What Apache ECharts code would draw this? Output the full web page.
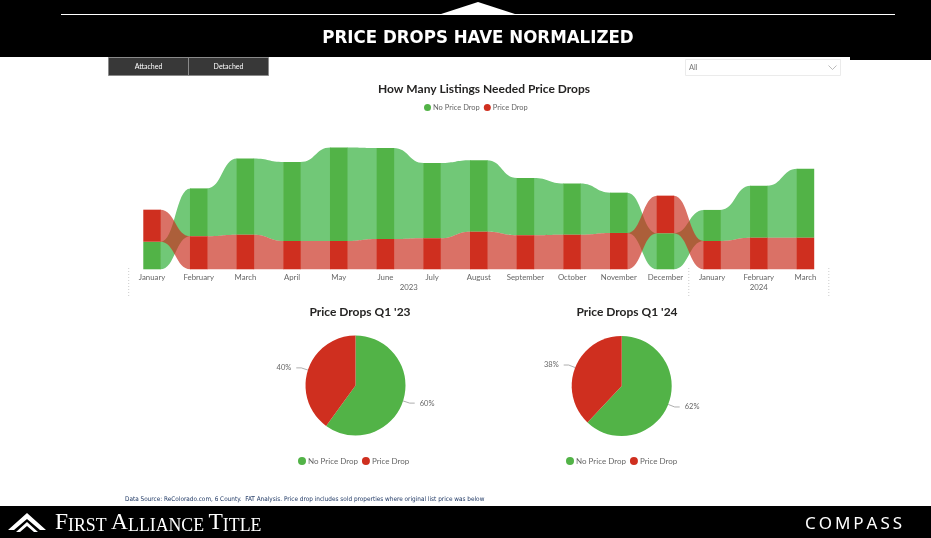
<!DOCTYPE html>
<html><head><meta charset="utf-8">
<script src="https://cdn.jsdelivr.net/npm/echarts@6/dist/echarts.min.js"></script>
<style>html,body{margin:0;padding:0;background:#fff}#c{width:931px;height:538px}</style>
</head><body><div id="c"></div>
<script>
// ---- data ----
const months = ['January','February','March','April','May','June','July','August','September','October','November','December','January','February','March'];
const years = ['2023','2024'];
const yearStart = [0, 12];
const yearEnd = [11, 14];
const noPriceDrop = [1100,1910,3040,3150,3730,3630,3000,2850,2280,2040,1610,1440,1240,2070,2750];
const priceDrop   = [1280,1320,1380,1130,1130,1210,1240,1500,1360,1380,1450,1500,1130,1260,1260];
const seriesNames = ['No Price Drop','Price Drop'];
const pieQ1_23 = [60,40];
const pieQ1_24 = [62,38];

const GREEN = '#52b347', RED = '#cf2f1f';
const GREEN_RIB = '#71c877', RED_RIB = 'rgba(200,45,30,0.68)';
const FONT = 'Lato, "Noto Sans", sans-serif';

function stackFor(i){
  const g = noPriceDrop[i], r = priceDrop[i];
  if (r > g) return {g:[0,g], r:[g,g+r]};
  return {r:[0,r], g:[r,r+g]};
}
function makeRender(key, barColor, ribColor){
  return function(params, api){
    const i = api.value(0);
    const bw = api.size([1,0])[0] * 0.375;
    const s = stackFor(i)[key];
    const pLo = api.coord([i, s[0]]), pHi = api.coord([i, s[1]]);
    const children = [];
    if (i < months.length - 1){
      const s2 = stackFor(i+1)[key];
      const qLo = api.coord([i+1, s2[0]]), qHi = api.coord([i+1, s2[1]]);
      const x1 = pLo[0] + bw/2 - 0.5, x2 = qLo[0] - bw/2 + 0.5, xm = (x1 + x2)/2;
      const d = 'M'+x1+' '+pHi[1]+' C'+xm+' '+pHi[1]+' '+xm+' '+qHi[1]+' '+x2+' '+qHi[1]+
                ' L'+x2+' '+qLo[1]+' C'+xm+' '+qLo[1]+' '+xm+' '+pLo[1]+' '+x1+' '+pLo[1]+' Z';
      children.push({type:'path', shape:{pathData:d}, style:{fill:ribColor}});
    }
    children.push({type:'rect', shape:{x:pLo[0]-bw/2, y:pHi[1], width:bw, height:pLo[1]-pHi[1]}, style:{fill:barColor}});
    return {type:'group', children};
  };
}

const chart = echarts.init(document.getElementById('c'), null, {renderer:'canvas'});

const pieCommon = {
  type:'pie', radius:50, startAngle:90, clockwise:true, animation:false,
  label:{show:true, position:'outside', formatter:'{d}%', fontSize:7.5, color:'#666', fontFamily:FONT},
  labelLine:{show:true, length:7, length2:5, lineStyle:{color:'#999', width:0.8}},
  emphasis:{disabled:true}
};

const option = {
  animation:false,
  color:[GREEN, RED],
  title:[
    {text:'How Many Listings Needed Price Drops', left:479, top:78, textAlign:'center',
     textStyle:{fontSize:12, fontWeight:'bold', color:'#252423', fontFamily:FONT}},
    {text:"Price Drops Q1 '23", left:355, top:301, textAlign:'center',
     textStyle:{fontSize:12, fontWeight:'bold', color:'#252423', fontFamily:FONT}},
    {text:"Price Drops Q1 '24", left:622, top:301, textAlign:'center',
     textStyle:{fontSize:12, fontWeight:'bold', color:'#252423', fontFamily:FONT}}
  ],
  legend:[
    {data:seriesNames, left:424, top:103.5, icon:'circle', itemWidth:7, itemHeight:7, itemGap:4, padding:0,
     textStyle:{fontSize:7.5, color:'#666', fontFamily:FONT, padding:[0,0,0,-3]}},
    {data:seriesNames, left:298, top:457, icon:'circle', itemWidth:8, itemHeight:8, itemGap:4, padding:0,
     textStyle:{fontSize:8, color:'#666', fontFamily:FONT, padding:[0,0,0,-3]}},
    {data:seriesNames, left:566, top:457, icon:'circle', itemWidth:8, itemHeight:8, itemGap:4, padding:0,
     textStyle:{fontSize:8, color:'#666', fontFamily:FONT, padding:[0,0,0,-3]}}
  ],
  grid:{left:128.7, right:102.2, top:129, bottom:268.7, containLabel:false},
  xAxis:{type:'category', data:months, axisLine:{show:false}, axisTick:{show:false},
    axisLabel:{fontSize:7.8, color:'#666', margin:4, interval:0, fontFamily:FONT}},
  yAxis:{type:'value', min:0, max:5600, show:false},
  series:[
    {name:seriesNames[0], type:'custom', coordinateSystem:'cartesian2d', itemStyle:{color:GREEN},
     renderItem:makeRender('g', GREEN, GREEN_RIB), encode:{x:0, y:1},
     data:months.map((m,i)=>[i, noPriceDrop[i]])},
    {name:seriesNames[1], type:'custom', coordinateSystem:'cartesian2d', itemStyle:{color:RED},
     renderItem:makeRender('r', RED, RED_RIB), encode:{x:0, y:1},
     data:months.map((m,i)=>[i, priceDrop[i]])},
    Object.assign({}, pieCommon, {center:[355.5,385.5],
      data:seriesNames.map((n,k)=>({name:n, value:pieQ1_23[k], itemStyle:{color:k?RED:GREEN}}))}),
    Object.assign({}, pieCommon, {center:[621.7,386],
      data:seriesNames.map((n,k)=>({name:n, value:pieQ1_24[k], itemStyle:{color:k?RED:GREEN}}))})
  ],
  graphic:[
    // header
    {type:'rect', shape:{x:0,y:0,width:931,height:57}, style:{fill:'#000'}, silent:true},
    {type:'rect', shape:{x:850,y:57,width:81,height:3}, style:{fill:'#000'}, silent:true},
    {type:'line', shape:{x1:61,y1:14.5,x2:895,y2:14.5}, style:{stroke:'#fff', lineWidth:1}},
    {type:'polygon', shape:{points:[[438,15],[478,2],[518,15]]}, style:{fill:'#fff'}},
    {type:'text', x:478, y:38, style:{text:'PRICE DROPS HAVE NORMALIZED', fill:'#fff',
      font:'bold 18.5px "DejaVu Sans Condensed", "DejaVu Sans", sans-serif', align:'center', verticalAlign:'middle'}},
    // buttons
    {type:'rect', shape:{x:108.5,y:57.5,width:80,height:18}, style:{fill:'#383838', stroke:'#8a8a8a', lineWidth:1}},
    {type:'rect', shape:{x:188.5,y:57.5,width:80,height:18}, style:{fill:'#383838', stroke:'#8a8a8a', lineWidth:1}},
    {type:'text', x:148.5, y:66.5, style:{text:'Attached', fill:'#fff', font:'7px '+FONT, align:'center', verticalAlign:'middle'}},
    {type:'text', x:228.5, y:66.5, style:{text:'Detached', fill:'#fff', font:'7px '+FONT, align:'center', verticalAlign:'middle'}},
    // dropdown
    {type:'rect', shape:{x:685.5,y:59.5,width:155,height:16}, style:{fill:'#fff', stroke:'#ebebeb', lineWidth:1}},
    {type:'text', x:689, y:68, style:{text:'All', fill:'#777', font:'7.5px '+FONT, align:'left', verticalAlign:'middle'}},
    {type:'polyline', shape:{points:[[828.5,65.5],[832.5,69.5],[836.5,65.5]]}, style:{stroke:'#aaa', lineWidth:0.8, fill:null}},
    // data source
    {type:'text', x:125, y:499, style:{text:'Data Source: ReColorado.com, 6 County.  FAT Analysis. Price drop includes sold properties where original list price was below',
      fill:'#1f3864', font:'6.4px "DejaVu Sans Condensed", "Liberation Sans Narrow", sans-serif', align:'left', verticalAlign:'middle'}},
    // footer
    {type:'rect', shape:{x:0,y:506,width:931,height:32}, style:{fill:'#000'}, silent:true},
    {type:'polygon', shape:{points:[[27,513],[46,530],[40,530],[27,519],[14,530],[8,530]]}, style:{fill:'#fff'}},
    {type:'polygon', shape:{points:[[27,522],[38,532],[34,532],[27,526],[20,532],[16,532]]}, style:{fill:'#fff'}},
    {type:'text', x:55, y:535, style:{text:'{b|F}{s|IRST }{b|A}{s|LLIANCE }{b|T}{s|ITLE}', fill:'#fff',
      align:'left', verticalAlign:'bottom',
      rich:{b:{fontSize:23.5, fontFamily:'"Liberation Serif", serif', color:'#fff', verticalAlign:'bottom'},
            s:{fontSize:17.8, fontFamily:'"Liberation Serif", serif', color:'#fff', verticalAlign:'bottom'}}}},
    {type:'text', x:803.4, y:524, style:{text:'{l|C}{l|O}{l|M}{l|P}{l|A}{l|S}{l|S}', fill:'#fff',
      align:'left', verticalAlign:'middle',
      rich:{l:{fontSize:17, fontFamily:'"Noto Sans", sans-serif', color:'#fff', padding:[0,1.5,0,1.5]}}}}
  ]
};
chart.setOption(option);

// year labels and dotted separators from axis positions
const px = i => chart.convertToPixel({xAxisIndex:0}, i);
const extra = [];
const half = (px(1) - px(0)) / 2;
years.forEach((y,k)=>{
  const cx = (px(yearStart[k]) + px(yearEnd[k])) / 2;
  extra.push({type:'text', x:cx, y:287.5, style:{text:y, fill:'#666', font:'7.8px '+FONT, align:'center', verticalAlign:'middle'}});
});
const seps = [px(0)-half, (px(11)+px(12))/2, px(14)+half];
seps.forEach(x=>{
  extra.push({type:'line', shape:{x1:x, y1:268, x2:x, y2:296}, style:{stroke:'#ccc', lineWidth:1, lineDash:[1,2]}});
});
chart.setOption({graphic: option.graphic.concat(extra)});
</script>
</body></html>
